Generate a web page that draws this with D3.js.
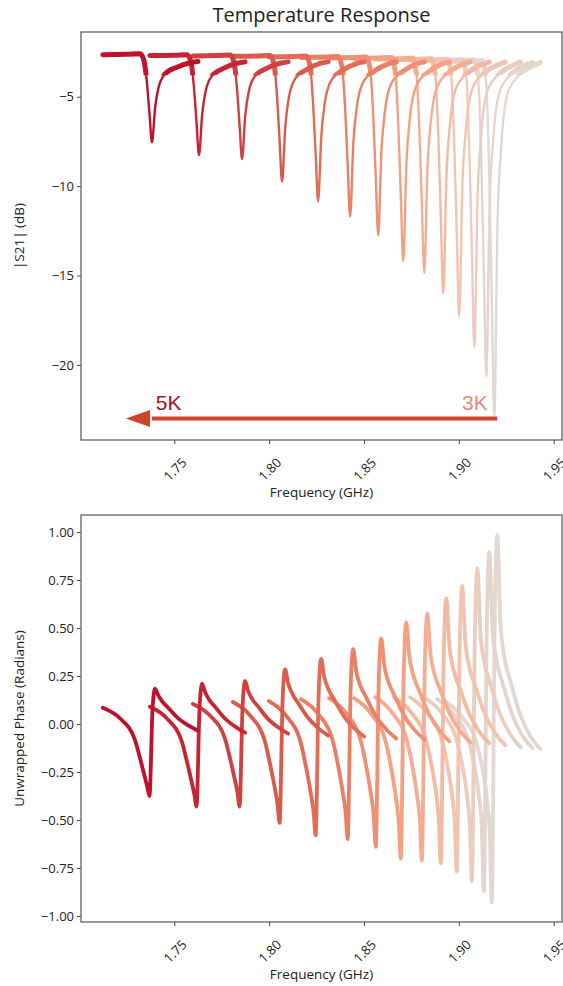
<!DOCTYPE html>
<html>
<head>
<meta charset="utf-8">
<script src="https://cdn.jsdelivr.net/npm/d3@7"></script>
<style>
  body { margin: 0; background: #fff; }
  svg { display: block; font-family: "Open Sans", sans-serif; }
</style>
</head>
<body>
<svg id="chart" width="563" height="986"></svg>
<script>
// resonance (dip) frequency of each sweep in GHz, 5K first, 3K last
const dipFreqs = [1.7382, 1.7630, 1.7857, 1.8068, 1.8258, 1.8427, 1.8575, 1.8707, 1.8818, 1.8918, 1.9002, 1.9082, 1.9145, 1.9187];
const traceColors = ["#c0102c", "#c62433", "#d0403f", "#da5a4b", "#e26c57", "#e97f66", "#ef9074", "#f3a083", "#f4ad93", "#f4b9a2", "#f1c4b0", "#ebcdbf", "#e5d4cc", "#e2d8d2"];

const s21Offsets = [-0.0259, -0.0132, -0.0063, -0.0042, -0.0026, -0.0013, 0, 0.0017, 0.0035, 0.0069, 0.0132, 0.0201, 0.0243];
const s21Values = [
  [-2.65, -2.63, -2.60, -2.97, -4.27, -5.93, -7.55, -5.61, -4.48, -3.73, -3.35, -3.10, -3.03],
  [-2.70, -2.68, -2.65, -3.06, -4.54, -6.43, -8.27, -5.98, -4.69, -3.83, -3.40, -3.13, -3.05],
  [-2.72, -2.70, -2.67, -3.09, -4.62, -6.58, -8.48, -6.05, -4.73, -3.84, -3.40, -3.13, -3.05],
  [-2.74, -2.72, -2.69, -3.20, -5.05, -7.44, -9.75, -6.68, -5.09, -3.99, -3.47, -3.14, -3.05],
  [-2.77, -2.75, -2.72, -3.30, -5.44, -8.18, -10.85, -7.21, -5.37, -4.10, -3.51, -3.15, -3.05],
  [-2.80, -2.78, -2.75, -3.38, -5.74, -8.76, -11.70, -7.58, -5.58, -4.18, -3.54, -3.16, -3.05],
  [-2.83, -2.81, -2.78, -3.48, -6.10, -9.48, -12.75, -8.05, -5.84, -4.26, -3.57, -3.17, -3.05],
  [-2.86, -2.84, -2.81, -3.60, -6.60, -10.46, -14.20, -8.68, -6.19, -4.39, -3.62, -3.18, -3.05],
  [-2.89, -2.87, -2.84, -3.67, -6.84, -10.90, -14.85, -8.90, -6.32, -4.41, -3.62, -3.19, -3.05],
  [-2.92, -2.90, -2.87, -3.77, -7.24, -11.68, -16.00, -9.36, -6.57, -4.48, -3.65, -3.21, -3.06],
  [-2.95, -2.93, -2.90, -3.88, -7.69, -12.57, -17.30, -9.87, -6.85, -4.56, -3.67, -3.22, -3.06],
  [-2.98, -2.96, -2.93, -4.02, -8.27, -13.71, -19.00, -10.53, -7.23, -4.66, -3.71, -3.25, -3.07],
  [-3.00, -2.98, -2.95, -4.15, -8.83, -14.83, -20.65, -11.15, -7.56, -4.75, -3.74, -3.26, -3.08],
  [-3.03, -3.01, -2.98, -4.32, -9.59, -16.34, -22.90, -12.00, -8.04, -4.86, -3.77, -3.28, -3.08]
];

// same idea for the unwrapped phase (radians)
const phaseOffsets = [-0.0259, -0.0169, -0.0090, -0.0063, -0.0037, -0.0024, -0.0013, 0.0003, 0.0016, 0.0032, 0.0053, 0.0084, 0.0137, 0.0190, 0.0243];
const phaseValues = [
  [0.085, 0.030, -0.081, -0.177, -0.278, -0.329, -0.375, 0.073, 0.185, 0.152, 0.119, 0.086, 0.031, -0.006, -0.035],
  [0.090, 0.029, -0.092, -0.197, -0.309, -0.368, -0.430, 0.082, 0.210, 0.167, 0.128, 0.091, 0.029, -0.013, -0.045],
  [0.105, 0.044, -0.076, -0.180, -0.294, -0.356, -0.430, 0.094, 0.225, 0.173, 0.131, 0.092, 0.027, -0.017, -0.050],
  [0.115, 0.045, -0.092, -0.209, -0.340, -0.415, -0.515, 0.125, 0.285, 0.213, 0.160, 0.111, 0.033, -0.021, -0.060],
  [0.120, 0.044, -0.102, -0.227, -0.370, -0.456, -0.580, 0.156, 0.340, 0.248, 0.185, 0.129, 0.039, -0.021, -0.065],
  [0.130, 0.053, -0.093, -0.219, -0.366, -0.457, -0.600, 0.192, 0.390, 0.276, 0.202, 0.140, 0.039, -0.027, -0.075],
  [0.135, 0.056, -0.094, -0.221, -0.373, -0.473, -0.640, 0.228, 0.445, 0.306, 0.222, 0.153, 0.043, -0.029, -0.080],
  [0.135, 0.053, -0.103, -0.233, -0.394, -0.505, -0.700, 0.284, 0.530, 0.353, 0.254, 0.174, 0.049, -0.033, -0.090],
  [0.140, 0.059, -0.093, -0.219, -0.380, -0.494, -0.710, 0.318, 0.575, 0.371, 0.263, 0.178, 0.048, -0.037, -0.095],
  [0.140, 0.060, -0.087, -0.209, -0.369, -0.489, -0.725, 0.379, 0.655, 0.411, 0.287, 0.195, 0.053, -0.039, -0.100],
  [0.140, 0.059, -0.089, -0.210, -0.376, -0.504, -0.770, 0.422, 0.720, 0.436, 0.298, 0.200, 0.049, -0.047, -0.110],
  [0.135, 0.053, -0.096, -0.215, -0.385, -0.523, -0.820, 0.484, 0.810, 0.473, 0.319, 0.210, 0.048, -0.054, -0.120],
  [0.130, 0.047, -0.100, -0.218, -0.392, -0.540, -0.870, 0.542, 0.895, 0.506, 0.334, 0.220, 0.048, -0.059, -0.125],
  [0.120, 0.036, -0.111, -0.227, -0.405, -0.563, -0.930, 0.602, 0.985, 0.539, 0.349, 0.227, 0.048, -0.063, -0.130]
];

const freqTicks = [1.75, 1.80, 1.85, 1.90, 1.95];
const s21Ticks = [-5, -10, -15, -20];
const phaseTicks = [1.0, 0.75, 0.5, 0.25, 0, -0.25, -0.5, -0.75, -1.0];

const svg = d3.select("#chart");
const left = 81, right = 562;

const x = d3.scaleLinear().domain([1.7008, 1.9544]).range([left, right]);

const topPanel = { top: 32, bottom: 440 };
const botPanel = { top: 515, bottom: 922 };

const yS21 = d3.scaleLinear().domain([-24.2, -1.38]).range([topPanel.bottom, topPanel.top]);
const yPhase = d3.scaleLinear().domain([-1.031, 1.089]).range([botPanel.bottom, botPanel.top]);

// traces as point lists
const s21Traces = dipFreqs.map((f0, i) => s21Offsets.map((o, j) => [f0 + o, s21Values[i][j]]));
const phaseTraces = dipFreqs.map((f0, i) => phaseOffsets.map((o, j) => [f0 + o, phaseValues[i][j]]));

// light (3K) drawn first so the warm sweeps sit on top
const order = d3.range(dipFreqs.length).reverse();

// title
svg.append("text")
  .attr("x", (left + right) / 2)
  .attr("y", 22)
  .attr("text-anchor", "middle")
  .style("font-size", "20px")
  .attr("fill", "#222")
  .text("Temperature Response");

function drawAxes(panel, y, ticks, fmt, label) {
  const g = svg.append("g");

  g.append("g")
    .attr("transform", `translate(${left},0)`)
    .call(d3.axisLeft(y).tickValues(ticks).tickFormat(fmt).tickSize(4).tickPadding(3))
    .call(a => a.select(".domain").remove())
    .call(a => a.selectAll("line").attr("stroke", "#444"))
    .call(a => a.selectAll("text").style("font-size", "13px").attr("fill", "#222").style("font-family", "Open Sans"));

  const xa = g.append("g")
    .attr("transform", `translate(0,${panel.bottom})`)
    .call(d3.axisBottom(x).tickValues(freqTicks).tickFormat(d3.format(".2f")).tickSize(4))
    .call(a => a.select(".domain").remove())
    .call(a => a.selectAll("line").attr("stroke", "#444"));
  xa.selectAll("text")
    .attr("y", 0).attr("dy", null)
    .attr("transform", "translate(0,29) rotate(-45)")
    .attr("text-anchor", "middle")
    .attr("dominant-baseline", "central")
    .style("font-size", "13px")
    .style("font-family", "Open Sans")
    .attr("fill", "#222");

  g.append("rect")
    .attr("x", left).attr("y", panel.top)
    .attr("width", right - left).attr("height", panel.bottom - panel.top)
    .attr("fill", "none")
    .attr("stroke", "#555")
    .attr("stroke-width", 1.2);

  g.append("text")
    .attr("x", (left + right) / 2)
    .attr("y", panel.bottom + 57)
    .attr("text-anchor", "middle")
    .style("font-size", "13.5px")
    .attr("fill", "#222")
    .text("Frequency (GHz)");

  g.append("text")
    .attr("transform", `translate(19,${(panel.top + panel.bottom) / 2}) rotate(-90)`)
    .attr("text-anchor", "middle")
    .attr("dominant-baseline", "central")
    .style("font-size", "13.5px")
    .attr("fill", "#222")
    .text(label);
}

drawAxes(topPanel, yS21, s21Ticks, d3.format("d"), "|S21| (dB)");
drawAxes(botPanel, yPhase, phaseTicks, d3.format(".2f"), "Unwrapped Phase (Radians)");

// the flat, noisy parts of the sweeps read as a wide band
svg.append("clipPath").attr("id", "flat-band")
  .append("rect")
  .attr("x", left).attr("y", topPanel.top)
  .attr("width", right - left).attr("height", yS21(-3.8) - topPanel.top);

const s21Line = d3.line().x(d => x(d[0])).y(d => yS21(d[1])).curve(d3.curveMonotoneX);
const phaseLine = d3.line().x(d => x(d[0])).y(d => yPhase(d[1])).curve(d3.curveMonotoneX);

const s21G = svg.append("g").attr("class", "s21");
order.forEach(i => {
  s21G.append("path")
    .attr("d", s21Line(s21Traces[i]))
    .attr("fill", "none")
    .attr("stroke", traceColors[i])
    .attr("stroke-width", 2.4)
    .attr("stroke-linejoin", "round");
  s21G.append("path")
    .attr("d", s21Line(s21Traces[i]))
    .attr("clip-path", "url(#flat-band)")
    .attr("fill", "none")
    .attr("stroke", traceColors[i])
    .attr("stroke-width", 5)
    .attr("stroke-linejoin", "round")
    .attr("stroke-linecap", "round");
});

const phaseG = svg.append("g").attr("class", "phase");
order.forEach(i => {
  phaseG.append("path")
    .attr("d", phaseLine(phaseTraces[i]))
    .attr("fill", "none")
    .attr("stroke", traceColors[i])
    .attr("stroke-width", 3.8)
    .attr("stroke-linejoin", "round")
    .attr("stroke-linecap", "round");
});

// temperature arrow 3K -> 5K
const arrowY = yS21(-23.0);
const tipX = x(1.7245), headX = x(1.7372), tailX = x(1.9202);
svg.append("line")
  .attr("x1", tailX).attr("x2", headX + 2)
  .attr("y1", arrowY).attr("y2", arrowY)
  .attr("stroke", "#d0422c")
  .attr("stroke-width", 4);
svg.append("path")
  .attr("d", `M${tipX},${arrowY} L${headX},${arrowY - 8.5} L${headX},${arrowY + 8.5} Z`)
  .attr("fill", "#d0422c");

svg.append("text")
  .attr("x", x(1.7402)).attr("y", yS21(-22.55))
  .style("font-family", "Liberation Sans, Arial, sans-serif")
  .style("font-size", "21px")
  .attr("fill", "#a50f1e")
  .text("5K");
svg.append("text")
  .attr("x", x(1.9017)).attr("y", yS21(-22.55))
  .style("font-family", "Liberation Sans, Arial, sans-serif")
  .style("font-size", "21px")
  .attr("fill", "#e28a7c")
  .text("3K");
</script>
</body>
</html>
